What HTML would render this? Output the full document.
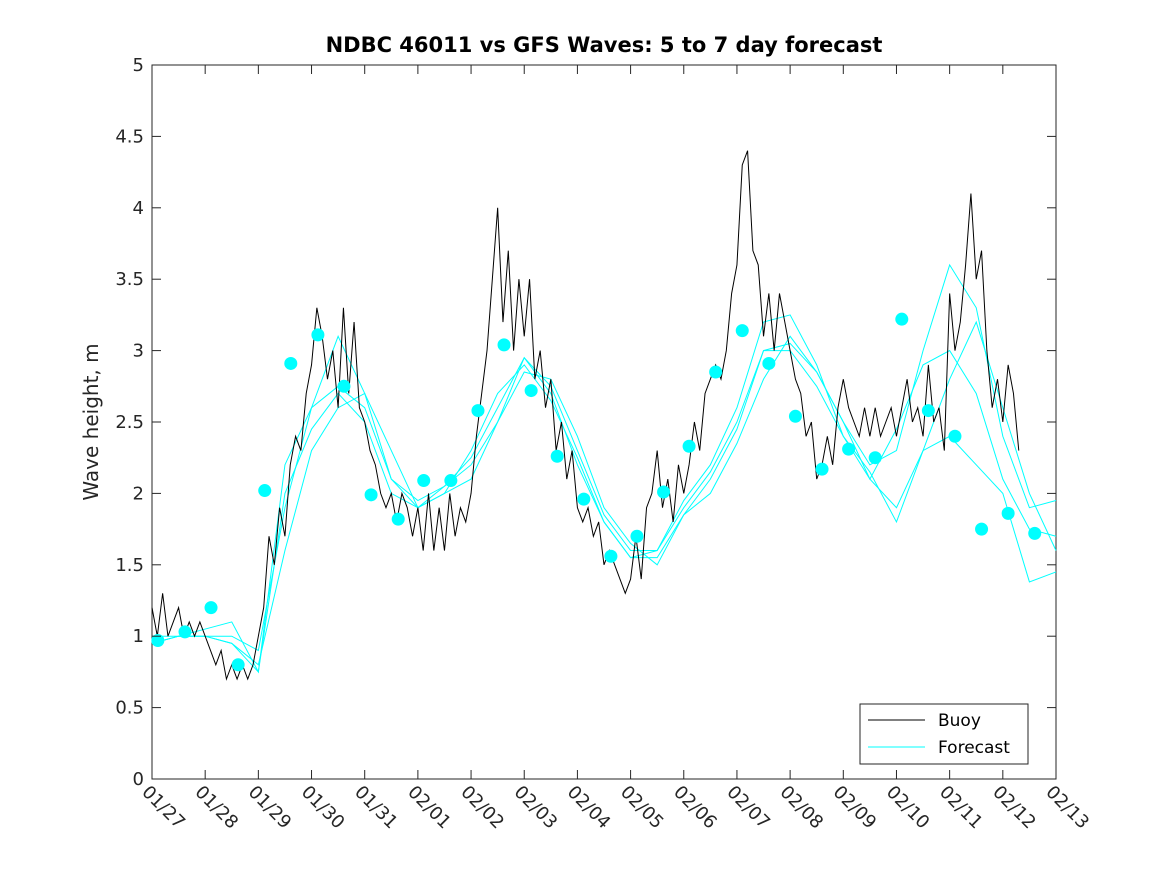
<!DOCTYPE html>
<html><head><meta charset="utf-8"><style>
body{margin:0;background:#fff}
svg{display:block;font-family:"DejaVu Sans","Liberation Sans",sans-serif}
</style></head><body>
<svg id="c" width="1167" height="875"></svg>
<script>
const xTickLabels=["01/27","01/28","01/29","01/30","01/31","02/01","02/02","02/03","02/04","02/05","02/06","02/07","02/08","02/09","02/10","02/11","02/12","02/13"];
const yTickLabels=["0","0.5","1","1.5","2","2.5","3","3.5","4","4.5","5"];
const buoyStart=0, buoyStep=0.1;
const buoyValues=[1.2,1.0,1.3,1.0,1.1,1.2,1.0,1.1,1.0,1.1,1.0,
0.9,0.8,0.9,0.7,0.8,0.7,0.8,0.7,0.8,1.0,
1.2,1.7,1.5,1.9,1.7,2.2,2.4,2.3,2.7,2.9,
3.3,3.1,2.8,3.0,2.6,3.3,2.7,3.2,2.6,2.5,
2.3,2.2,2.0,1.9,2.0,1.8,2.0,1.9,1.7,1.9,
1.6,2.0,1.6,1.9,1.6,2.0,1.7,1.9,1.8,2.0,
2.4,2.7,3.0,3.5,4.0,3.2,3.7,3.0,3.5,3.1,
3.5,2.8,3.0,2.6,2.8,2.3,2.5,2.1,2.3,1.9,
1.8,1.9,1.7,1.8,1.5,1.6,1.5,1.4,1.3,1.4,
1.7,1.4,1.9,2.0,2.3,1.9,2.1,1.8,2.2,2.0,
2.2,2.5,2.3,2.7,2.8,2.9,2.8,3.0,3.4,3.6,
4.3,4.4,3.7,3.6,3.1,3.4,3.0,3.4,3.2,3.0,
2.8,2.7,2.4,2.5,2.1,2.2,2.4,2.2,2.6,2.8,
2.6,2.5,2.4,2.6,2.4,2.6,2.4,2.5,2.6,2.4,
2.6,2.8,2.5,2.6,2.4,2.9,2.5,2.6,2.3,3.4,
3.0,3.2,3.6,4.1,3.5,3.7,3.0,2.6,2.8,2.5,
2.9,2.7,2.3];
const fcStart=0, fcStep=0.5;
const forecast1=[0.95,1.0,1.0,0.95,0.75,2.2,2.6,2.75,2.6,2.1,1.95,2.05,2.25,2.6,2.95,2.75,2.3,1.85,1.6,1.6,1.9,2.15,2.5,3.0,3.05,2.85,2.5,2.2,2.3,3.0,3.6,3.3,2.4,1.9,1.95];
const forecast2=[1.0,1.0,1.0,1.0,0.9,1.9,2.6,3.1,2.7,2.3,1.9,2.0,2.1,2.5,2.95,2.7,2.2,1.8,1.55,1.6,1.95,2.2,2.6,3.2,3.25,2.9,2.4,2.15,1.8,2.3,2.8,3.2,2.6,2.0,1.6];
const forecast3=[0.95,1.0,1.05,1.1,0.75,2.0,2.45,2.7,2.5,2.0,1.9,2.0,2.3,2.7,2.9,2.65,2.25,1.8,1.55,1.55,1.85,2.1,2.45,3.0,3.0,2.75,2.4,2.1,2.45,2.9,3.0,2.7,2.1,1.75,1.7];
const forecast4=[0.95,1.0,1.0,0.95,0.8,1.6,2.3,2.6,2.7,2.1,1.9,2.05,2.2,2.5,2.85,2.8,2.4,1.9,1.65,1.5,1.85,2.0,2.35,2.8,3.1,2.85,2.5,2.1,1.9,2.3,2.4,2.2,2.0,1.38,1.45];
const dotDays=[0.11,0.62,1.11,1.62,2.12,2.61,3.12,3.61,4.12,4.63,5.11,5.62,6.13,6.62,7.13,7.62,8.12,8.63,9.12,9.62,10.1,10.6,11.1,11.6,12.1,12.6,13.1,13.6,14.1,14.6,15.1,15.6,16.1,16.6];
const dotValues=[0.97,1.03,1.20,0.80,2.02,2.91,3.11,2.75,1.99,1.82,2.09,2.09,2.58,3.04,2.72,2.26,1.96,1.56,1.70,2.01,2.33,2.85,3.14,2.91,2.54,2.17,2.31,2.25,3.22,2.58,2.40,1.75,1.86,1.72];

const L=152,R=1056,T=65,B=779;
const X=d=>L+(R-L)*d/17, Y=v=>B-(B-T)*v/5;
const svg=document.getElementById('c'), NS='http://www.w3.org/2000/svg';
function mk(t,a,p){const e=document.createElementNS(NS,t);for(const k in a)e.setAttribute(k,a[k]);(p||svg).appendChild(e);return e;}
let e;
e=mk('rect',{x:L,y:T,width:R-L,height:B-T,fill:'#fff',stroke:'#262626','stroke-width':1});


[forecast1,forecast2,forecast3,forecast4].forEach((s,i)=>{
 const pts=s.map((v,j)=>X(fcStart+j*fcStep)+','+Y(v)).join(' ');
 e=mk('polyline',{points:pts,fill:'none',stroke:'#00ffff','stroke-width':1});
 
 
});
e=mk('polyline',{points:buoyValues.map((v,j)=>X(buoyStart+j*buoyStep)+','+Y(v)).join(' '),fill:'none',stroke:'#000','stroke-width':1});


dotDays.forEach((d,i)=>{
 e=mk('circle',{cx:X(d),cy:Y(dotValues[i]),r:6.5,fill:'#00ffff'});
 
 
});
xTickLabels.forEach((t,i)=>{
 const x=X(i);
 mk('line',{x1:x,y1:B,x2:x,y2:B-9,stroke:'#262626'});
 mk('line',{x1:x,y1:T,x2:x,y2:T+9,stroke:'#262626'});
 e=mk('text',{x:0,y:0,'font-size':18,fill:'#262626',transform:`translate(${x-11},${B+14}) rotate(45)`});
 e.textContent=t;
 
 
});
yTickLabels.forEach((t,i)=>{
 const y=Y(i*0.5);
 mk('line',{x1:L,y1:y,x2:L+9,y2:y,stroke:'#262626'});
 mk('line',{x1:R,y1:y,x2:R-9,y2:y,stroke:'#262626'});
 e=mk('text',{x:L-8,y:y+6,'font-size':18,fill:'#262626','text-anchor':'end'});
 e.textContent=t;
 
 
});
e=mk('text',{x:604,y:52,'font-size':21,'font-weight':'bold','text-anchor':'middle',fill:'#000'});
e.textContent='NDBC 46011 vs GFS Waves: 5 to 7 day forecast';


e=mk('text',{x:0,y:0,'font-size':20,'text-anchor':'middle',fill:'#262626',transform:'translate(98,422) rotate(-90)'});
e.textContent='Wave height, m';


const g=mk('g',{});


mk('rect',{x:860,y:704,width:168,height:60,fill:'#fff',stroke:'#262626'},g);
mk('line',{x1:868,y1:720,x2:925,y2:720,stroke:'#000'},g);
mk('line',{x1:868,y1:747,x2:925,y2:747,stroke:'#00ffff'},g);
e=mk('text',{x:938,y:726,'font-size':17,fill:'#000'},g);e.textContent='Buoy';


e=mk('text',{x:938,y:753,'font-size':17,fill:'#000'},g);e.textContent='Forecast';


</script>
</body></html>
